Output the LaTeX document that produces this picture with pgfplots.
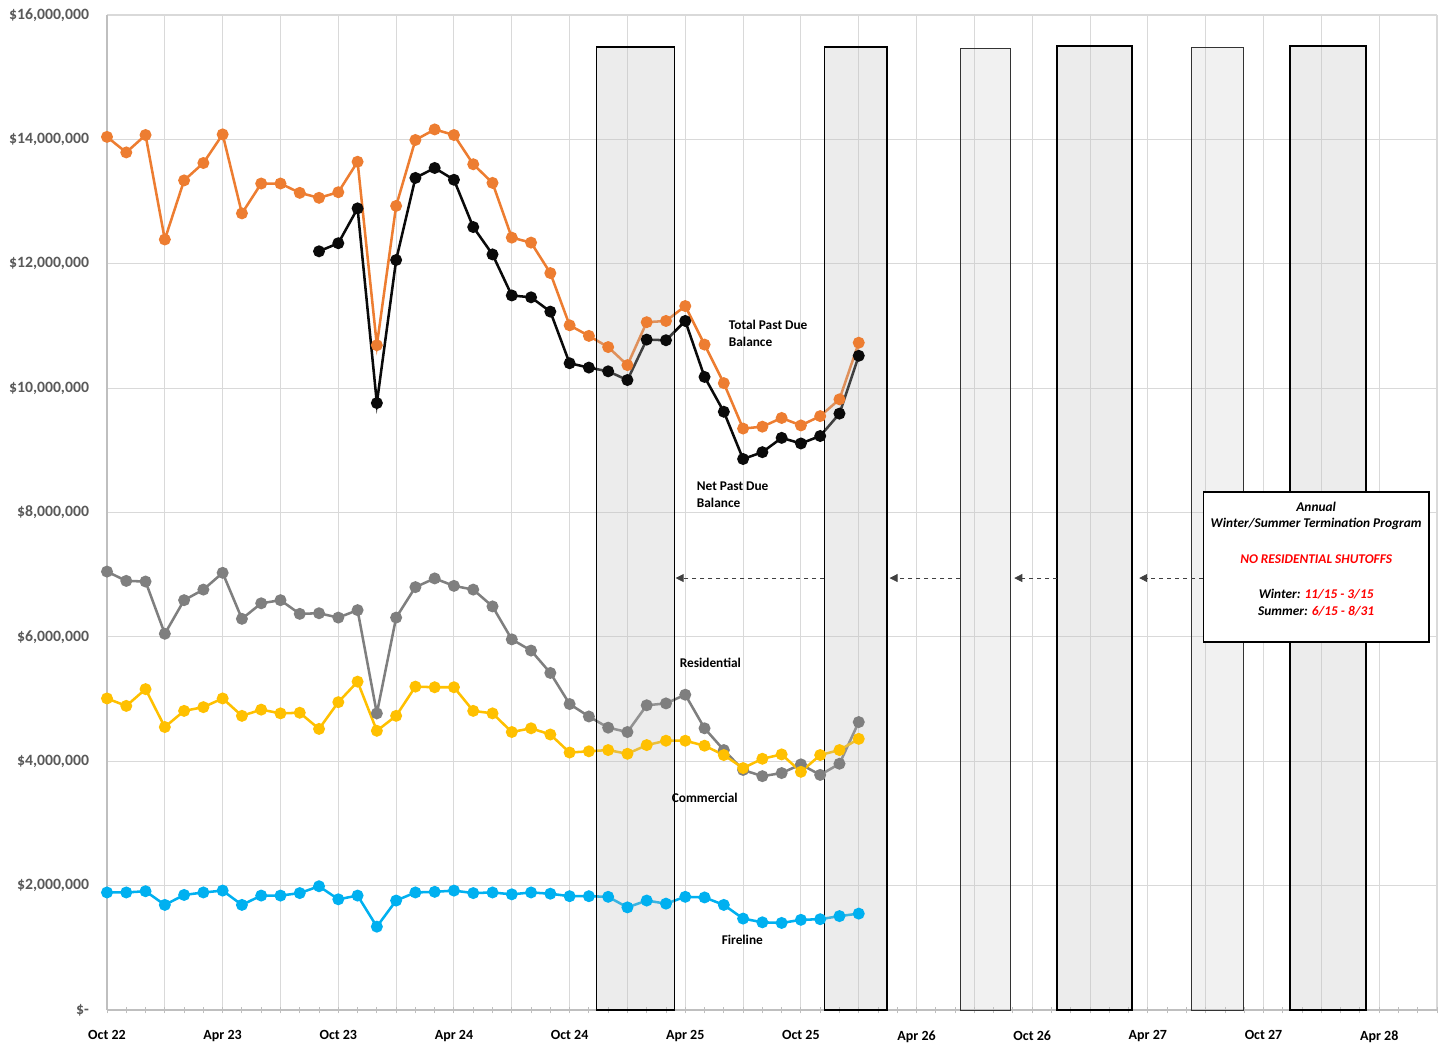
\documentclass[border=0pt]{standalone}
\usepackage{fontspec}
\setmainfont{Carlito}
\usepackage{pgfplots}
\usepackage{pgfplotstable}
\pgfplotsset{compat=1.18}
\usetikzlibrary{arrows.meta}
\definecolor{cOrange}{HTML}{ED7D31}
\definecolor{cGray}{HTML}{7F7F7F}
\definecolor{cYellow}{HTML}{FFC000}
\definecolor{cBlue}{HTML}{00B0F0}
\definecolor{cBlack}{HTML}{0A0A0A}
\definecolor{gridgray}{HTML}{D9D9D9}
\definecolor{axisgray}{HTML}{BFBFBF}
\definecolor{labelgray}{HTML}{595959}
\definecolor{cRed}{HTML}{FF0000}

\pgfplotstableread{
n total res com fire
0 14.04 7.05 5.01 1.89
1 13.79 6.90 4.89 1.89
2 14.07 6.89 5.16 1.91
3 12.39 6.05 4.55 1.69
4 13.34 6.59 4.81 1.85
5 13.62 6.76 4.87 1.89
6 14.08 7.03 5.01 1.92
7 12.81 6.29 4.73 1.69
8 13.29 6.54 4.83 1.84
9 13.29 6.59 4.77 1.84
10 13.14 6.37 4.78 1.88
11 13.06 6.38 4.52 1.99
12 13.15 6.31 4.95 1.78
13 13.64 6.43 5.28 1.84
14 10.69 4.77 4.49 1.34
15 12.93 6.31 4.73 1.76
16 13.99 6.80 5.20 1.89
17 14.16 6.94 5.19 1.90
18 14.07 6.82 5.19 1.92
19 13.60 6.76 4.81 1.88
20 13.30 6.49 4.77 1.89
21 12.42 5.96 4.47 1.86
22 12.34 5.78 4.53 1.89
23 11.85 5.42 4.43 1.87
24 11.01 4.92 4.14 1.83
25 10.84 4.72 4.16 1.83
26 10.66 4.54 4.18 1.82
27 10.37 4.47 4.12 1.65
28 11.06 4.90 4.26 1.76
29 11.08 4.93 4.33 1.71
30 11.32 5.07 4.33 1.82
31 10.70 4.53 4.25 1.81
32 10.08 4.18 4.10 1.69
33 9.35 3.86 3.89 1.47
34 9.38 3.76 4.04 1.41
35 9.52 3.81 4.11 1.40
36 9.40 3.95 3.83 1.45
37 9.55 3.78 4.10 1.46
38 9.82 3.96 4.18 1.51
39 10.73 4.63 4.36 1.55
}\maindata

\pgfplotstableread{
n net
11 12.20
12 12.33
13 12.89
14 9.76
15 12.06
16 13.38
17 13.54
18 13.35
19 12.59
20 12.15
21 11.49
22 11.46
23 11.23
24 10.40
25 10.33
26 10.27
27 10.13
28 10.78
29 10.77
30 11.08
31 10.18
32 9.62
33 8.86
34 8.97
35 9.20
36 9.11
37 9.23
38 9.59
39 10.52
}\netdata

\begin{document}
\begin{tikzpicture}
\useasboundingbox (-80.25pt,-24.75pt) rectangle (1003.5pt,757.5pt);
\begin{axis}[
  at={(0,0)}, anchor=south west,
  scale only axis, width=997.5pt, height=746.25pt,
  xmin=0, xmax=69, ymin=0, ymax=16,
  axis lines=left,
  axis line style={-, draw=axisgray, line width=0.9pt},
  xtick={0,6,...,66},
  xticklabels={Oct 22, Apr 23, Oct 23, Apr 24, Oct 24, Apr 25, Oct 25, Apr 26, Oct 26, Apr 27, Oct 27, Apr 28},
  minor xtick={3,9,...,69},
  ytick={0,2,...,16},
  yticklabels={{\$-\hspace{7pt}},{\$2,000,000},{\$4,000,000},{\$6,000,000},{\$8,000,000},{\$10,000,000},{\$12,000,000},{\$14,000,000},{\$16,000,000}},
  grid=both,
  major grid style={draw=gridgray, line width=0.8pt},
  minor grid style={draw=gridgray, line width=0.8pt},
  major tick length=0pt, minor tick length=0pt,
  extra x ticks={0,1,...,69},
  extra x tick labels={},
  extra x tick style={grid=none, major tick length=5pt, tick align=center, tick style={draw=axisgray, line width=0.7pt}},
  xticklabel style={font=\bfseries\fontsize{10.5}{12}\selectfont, text=black, yshift=-12pt},
  yticklabel style={font=\bfseries\fontsize{11.8}{13}\selectfont, text=labelgray, xshift=-10pt},
  clip=false,
  every axis plot/.append style={line width=1.9pt, mark=*, mark size=3.5pt, mark options={solid}},
]
\addplot[color=cOrange, mark options={fill=cOrange}] table[x=n, y=total] {\maindata};
\addplot[color=cBlack, mark options={fill=cBlack}] table[x=n, y=net] {\netdata};
\addplot[color=cGray, mark options={fill=cGray}] table[x=n, y=res] {\maindata};
\addplot[color=cYellow, mark options={fill=cYellow}] table[x=n, y=com] {\maindata};
\addplot[color=cBlue, mark options={fill=cBlue}] table[x=n, y=fire] {\maindata};

% termination program periods (overlay)
\draw[black, line width=1.2pt, fill=black!25, fill opacity=0.3] (axis cs:25.39,0) rectangle (axis cs:29.45,15.485);
\draw[black, line width=1.2pt, fill=black!25, fill opacity=0.3] (axis cs:37.22,0) rectangle (axis cs:40.47,15.485);
\draw[black!80, line width=0.6pt, fill=black!25, fill opacity=0.22] (axis cs:44.27,0) rectangle (axis cs:46.86,15.47);
\draw[black, line width=1.2pt, fill=black!25, fill opacity=0.3] (axis cs:49.30,0) rectangle (axis cs:53.19,15.50);
\draw[black!80, line width=0.6pt, fill=black!25, fill opacity=0.22] (axis cs:56.25,0) rectangle (axis cs:58.94,15.48);
\draw[black, line width=1.2pt, fill=black!25, fill opacity=0.3] (axis cs:61.38,0) rectangle (axis cs:65.32,15.50);

% arrows
\draw[black!75, dashed, line width=0.6pt, -{Triangle[length=6pt,width=6pt]}] (axis cs:56.87,6.946) -- (axis cs:53.55,6.946);
\draw[black!75, dashed, line width=0.6pt, -{Triangle[length=6pt,width=6pt]}] (axis cs:49.30,6.946) -- (axis cs:47.07,6.946);
\draw[black!75, dashed, line width=0.6pt, -{Triangle[length=6pt,width=6pt]}] (axis cs:44.27,6.946) -- (axis cs:40.60,6.946);
\draw[black!75, dashed, line width=0.6pt, -{Triangle[length=6pt,width=6pt]}] (axis cs:37.22,6.946) -- (axis cs:29.50,6.946);

% annotation box
\draw[black, line width=1pt, fill=white] (axis cs:56.87,8.33) rectangle (axis cs:68.59,5.92);
\begin{scope}[every node/.style={font=\bfseries\itshape\fontsize{10}{12}\selectfont, inner sep=0pt}]
\node at (axis cs:62.73,8.088) {Annual};
\node at (axis cs:62.73,7.815) {Winter/Summer Termination Program};
\node[text=cRed] at (axis cs:62.73,7.252) {NO RESIDENTIAL SHUTOFFS};
\node at (axis cs:62.73,6.689) {Winter: \textcolor{cRed}{11/15 - 3/15}};
\node at (axis cs:62.73,6.416) {Summer: \textcolor{cRed}{6/15 - 8/31}};
\end{scope}

% series labels
\begin{scope}[every node/.style={font=\bfseries\fontsize{10}{12.75}\selectfont, inner sep=0pt, anchor=west, align=left}]
\node at (axis cs:32.25,10.88) {Total Past Due\\Balance};
\node at (axis cs:30.59,8.29) {Net Past Due\\Balance};
\node at (axis cs:29.70,5.58) {Residential};
\node at (axis cs:29.29,3.41) {Commercial};
\node at (axis cs:31.88,1.126) {Fireline};
\end{scope}
\end{axis}
\end{tikzpicture}
\end{document}
